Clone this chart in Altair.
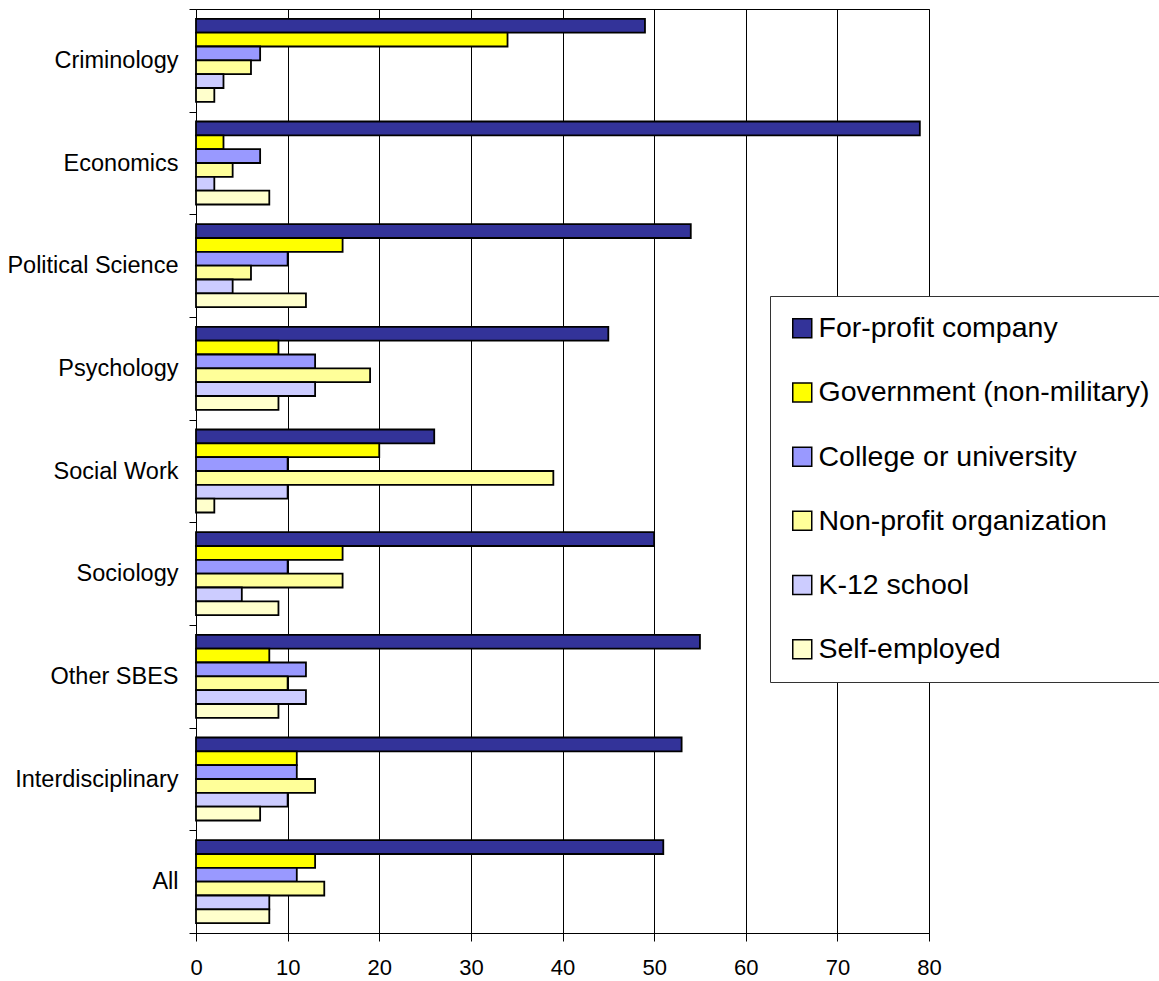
import altair as alt
import pandas as pd

# Fields of study (top to bottom) and employer types (legend order)
fields = [
    "Criminology", "Economics", "Political Science", "Psychology",
    "Social Work", "Sociology", "Other SBES", "Interdisciplinary", "All",
]
employers = [
    "For-profit company", "Government (non-military)", "College or university",
    "Non-profit organization", "K-12 school", "Self-employed",
]
colors = ["#333399", "#FFFF00", "#9999FF", "#FFFF99", "#CCCCFF", "#FFFFCC"]

# Percent of graduates by employer type, one value per field
for_profit = [49, 79, 54, 45, 26, 50, 55, 53, 51]
government = [34, 3, 16, 9, 20, 16, 8, 11, 13]
college = [7, 7, 10, 13, 10, 10, 12, 11, 11]
nonprofit = [6, 4, 6, 19, 39, 16, 10, 13, 14]
k12 = [3, 2, 4, 13, 10, 5, 12, 10, 8]
self_employed = [2, 8, 12, 9, 2, 9, 9, 7, 8]

x_ticks = list(range(0, 81, 10))

series = [for_profit, government, college, nonprofit, k12, self_employed]
rows = []
for emp, vals in zip(employers, series):
    for f, v in zip(fields, vals):
        rows.append({"field": f, "employer": emp, "share": v})
df = pd.DataFrame(rows)

FONT = "Liberation Sans"

chart = (
    alt.Chart(df)
    .mark_bar(stroke="black", strokeWidth=1.8)
    .encode(
        y=alt.Y(
            "field:N",
            sort=fields,
            scale=alt.Scale(paddingInner=0, paddingOuter=0),
            axis=alt.Axis(
                title=None,
                tickBand="extent",
                labelFont=FONT,
                labelFontSize=23.5,
                labelColor="black",
                tickColor="black",
                tickSize=7,
                labelPadding=11,
                domainColor="black",
                grid=False,
            ),
        ),
        # gaps between field groups come from the outer padding of the offset scale
        yOffset=alt.YOffset(
            "employer:N",
            sort=employers,
            scale=alt.Scale(paddingInner=0, paddingOuter=0.71),
        ),
        x=alt.X(
            "share:Q",
            scale=alt.Scale(domain=[0, 80], nice=False),
            axis=alt.Axis(
                title=None,
                values=x_ticks,
                grid=True,
                gridColor="black",
                gridOpacity=1,
                gridWidth=1,
                labelFont=FONT,
                labelFontSize=22,
                labelColor="black",
                labelFlush=False,
                tickColor="black",
                tickSize=8,
                labelPadding=16,
                domainColor="black",
            ),
        ),
        fill=alt.Fill(
            "employer:N",
            sort=employers,
            scale=alt.Scale(domain=employers, range=colors),
            legend=alt.Legend(
                title=None,
                orient="none",
                legendX=574,
                legendY=287,
                symbolType="square",
                symbolSize=361,
                symbolStrokeColor="black",
                symbolStrokeWidth=1.5,
                symbolOpacity=1,
                labelFont=FONT,
                labelFontSize=28.5,
                labelColor="black",
                labelLimit=500,
                labelOffset=2,
                rowPadding=35.2,
                padding=18,
                strokeColor="#333333",
                fillColor="white",
                cornerRadius=0,
            ),
        ),
    )
    .properties(
        width=733,
        height=924,
        autosize=alt.AutoSizeParams(type="none"),
        padding={"left": 196, "top": 9, "right": 230, "bottom": 48},
    )
    .configure_view(stroke="black", strokeWidth=1)
)

chart.save("out.html", embed_options={"renderer": "svg", "actions": False})
